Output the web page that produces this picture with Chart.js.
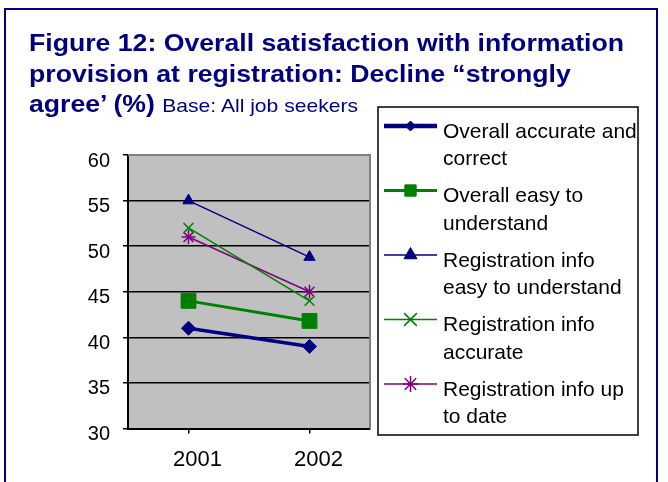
<!DOCTYPE html>
<html>
<head>
<meta charset="utf-8">
<script src="https://cdn.jsdelivr.net/npm/chart.js@4"></script>
<style>
  body { margin: 0; background: #fff; }
  #wrap { position: relative; width: 668px; height: 482px; overflow: hidden; }
  #frame { position: absolute; left: 4px; top: 8px; width: 650px; height: 520px; border: 2px solid #000080; }
  #title {
    position: absolute; left: 29px; top: 28px;
    font: bold 24px "Liberation Sans", Arial, sans-serif; color: #000080;
    line-height: 30.5px; white-space: nowrap;
    transform: scaleX(1.11); transform-origin: 0 0;
  }
  #title span { font-weight: normal; font-size: 19px; }
  canvas { position: absolute; left: 0; top: 0; }
</style>
</head>
<body>
<div id="wrap">
  <div id="frame"></div>
  <canvas id="chart" width="668" height="482"></canvas>
  <div id="title">Figure 12: Overall satisfaction with information<br>provision at registration: Decline “strongly<br>agree’ (%) <span>Base: All job seekers</span></div>
</div>
<script>
const years = ["2001", "2002"];
const seriesNames = [
  "Overall accurate and correct",
  "Overall easy to understand",
  "Registration info easy to understand",
  "Registration info accurate",
  "Registration info up to date"
];
const accurateCorrect = [41, 39];
const easyUnderstand = [44, 41.8];
const regEasy = [55, 48.8];
const regAccurate = [52, 44];
const regUpToDate = [51, 45];
const yMin = 30, yMax = 60, yStep = 5;

const navy = "#000080";
const green = "#008000";
const purple = "#800080";
const font = "'Liberation Sans', Arial, sans-serif";

// plot background and grey frame like the Excel original
const plotBg = {
  id: "plotBg",
  beforeDraw(chart) {
    const { ctx, chartArea: a } = chart;
    ctx.save();
    ctx.fillStyle = "#c0c0c0";
    ctx.fillRect(a.left, a.top, a.right - a.left, a.bottom - a.top);
    ctx.restore();
  },
  beforeDatasetsDraw(chart) {
    const { ctx, chartArea: a } = chart;
    ctx.save();
    ctx.strokeStyle = "#808080";
    ctx.lineWidth = 2;
    ctx.beginPath();
    ctx.moveTo(a.left, a.top);
    ctx.lineTo(a.right, a.top);
    ctx.lineTo(a.right, a.bottom);
    ctx.stroke();
    ctx.restore();
  }
};

function wrap(ctx, text, maxW) {
  const words = text.split(" ");
  const lines = [];
  let cur = "";
  words.forEach(w => {
    const test = cur ? cur + " " + w : w;
    if (cur && ctx.measureText(test).width > maxW) {
      lines.push(cur);
      cur = w;
    } else cur = test;
  });
  lines.push(cur);
  return lines;
}

// legend box on the right, with wrapped labels
const legendBox = {
  id: "legendBox",
  afterDraw(chart) {
    const ctx = chart.ctx;
    ctx.save();
    ctx.strokeStyle = "#000";
    ctx.lineWidth = 1.5;
    ctx.strokeRect(378, 107, 260, 328);
    ctx.font = "21px " + font;
    ctx.textBaseline = "middle";
    chart.data.datasets.forEach((ds, i) => {
      const ly = 126 + i * 64.5;
      ctx.strokeStyle = ds.borderColor;
      ctx.fillStyle = ds.backgroundColor;
      ctx.lineWidth = ds.legendLine;
      ctx.beginPath();
      ctx.moveTo(384, ly);
      ctx.lineTo(437, ly);
      ctx.stroke();
      ctx.lineWidth = ds.pointBorderWidth;
      Chart.helpers.drawPoint(ctx, { pointStyle: ds.pointStyle, radius: ds.legendRadius, borderWidth: ds.pointBorderWidth, rotation: 0 }, 410.5, ly);
      ctx.fillStyle = "#000";
      wrap(ctx, ds.label, 197).forEach((line, j) => {
        ctx.fillText(line, 443, ly + 6 + j * 27.5);
      });
    });
    ctx.restore();
  }
};

new Chart(document.getElementById("chart"), {
  type: "line",
  data: {
    labels: years,
    datasets: [
      { label: seriesNames[0], data: accurateCorrect, borderColor: navy, backgroundColor: navy, borderWidth: 3.5, pointStyle: "rectRot", pointRadius: 7, pointBorderWidth: 1, legendLine: 4.5, legendRadius: 5 },
      { label: seriesNames[1], data: easyUnderstand, borderColor: green, backgroundColor: green, borderWidth: 3, pointStyle: "rect", pointRadius: 10.5, pointBorderWidth: 1, legendLine: 3, legendRadius: 8 },
      { label: seriesNames[2], data: regEasy, borderColor: navy, backgroundColor: navy, borderWidth: 1.5, pointStyle: "triangle", pointRadius: 6.5, pointBorderWidth: 1, legendLine: 1.5, legendRadius: 7.5 },
      { label: seriesNames[3], data: regAccurate, borderColor: green, backgroundColor: green, borderWidth: 1.5, pointStyle: "crossRot", pointRadius: 7, pointBorderWidth: 1.5, legendLine: 1.5, legendRadius: 9 },
      { label: seriesNames[4], data: regUpToDate, borderColor: purple, backgroundColor: purple, borderWidth: 1.5, pointStyle: "star", pointRadius: 7, pointBorderWidth: 1.5, legendLine: 1.5, legendRadius: 8 }
    ]
  },
  options: {
    responsive: false,
    animation: false,
    devicePixelRatio: 1,
    layout: { padding: { top: 155, right: 298, left: 0, bottom: 0 } },
    plugins: { legend: { display: false }, tooltip: { enabled: false } },
    elements: { line: { tension: 0 } },
    scales: {
      x: {
        offset: true,
        afterFit: s => { s.height = 53.5; },
        grid: { drawOnChartArea: false, color: "#000", tickLength: 5, lineWidth: 1.5 },
        border: { color: "#000", width: 2 },
        ticks: { color: "#000", font: { size: 22, family: font }, padding: 13, labelOffset: 9 }
      },
      y: {
        min: yMin, max: yMax,
        afterFit: s => { s.width = 128; },
        grid: { color: "#000", lineWidth: 1.5, tickLength: 5 },
        border: { color: "#000", width: 2 },
        ticks: { stepSize: yStep, color: "#000", font: { size: 20, family: font }, padding: 13, labelOffset: 6 }
      }
    }
  },
  plugins: [plotBg, legendBox]
});
</script>
</body>
</html>
